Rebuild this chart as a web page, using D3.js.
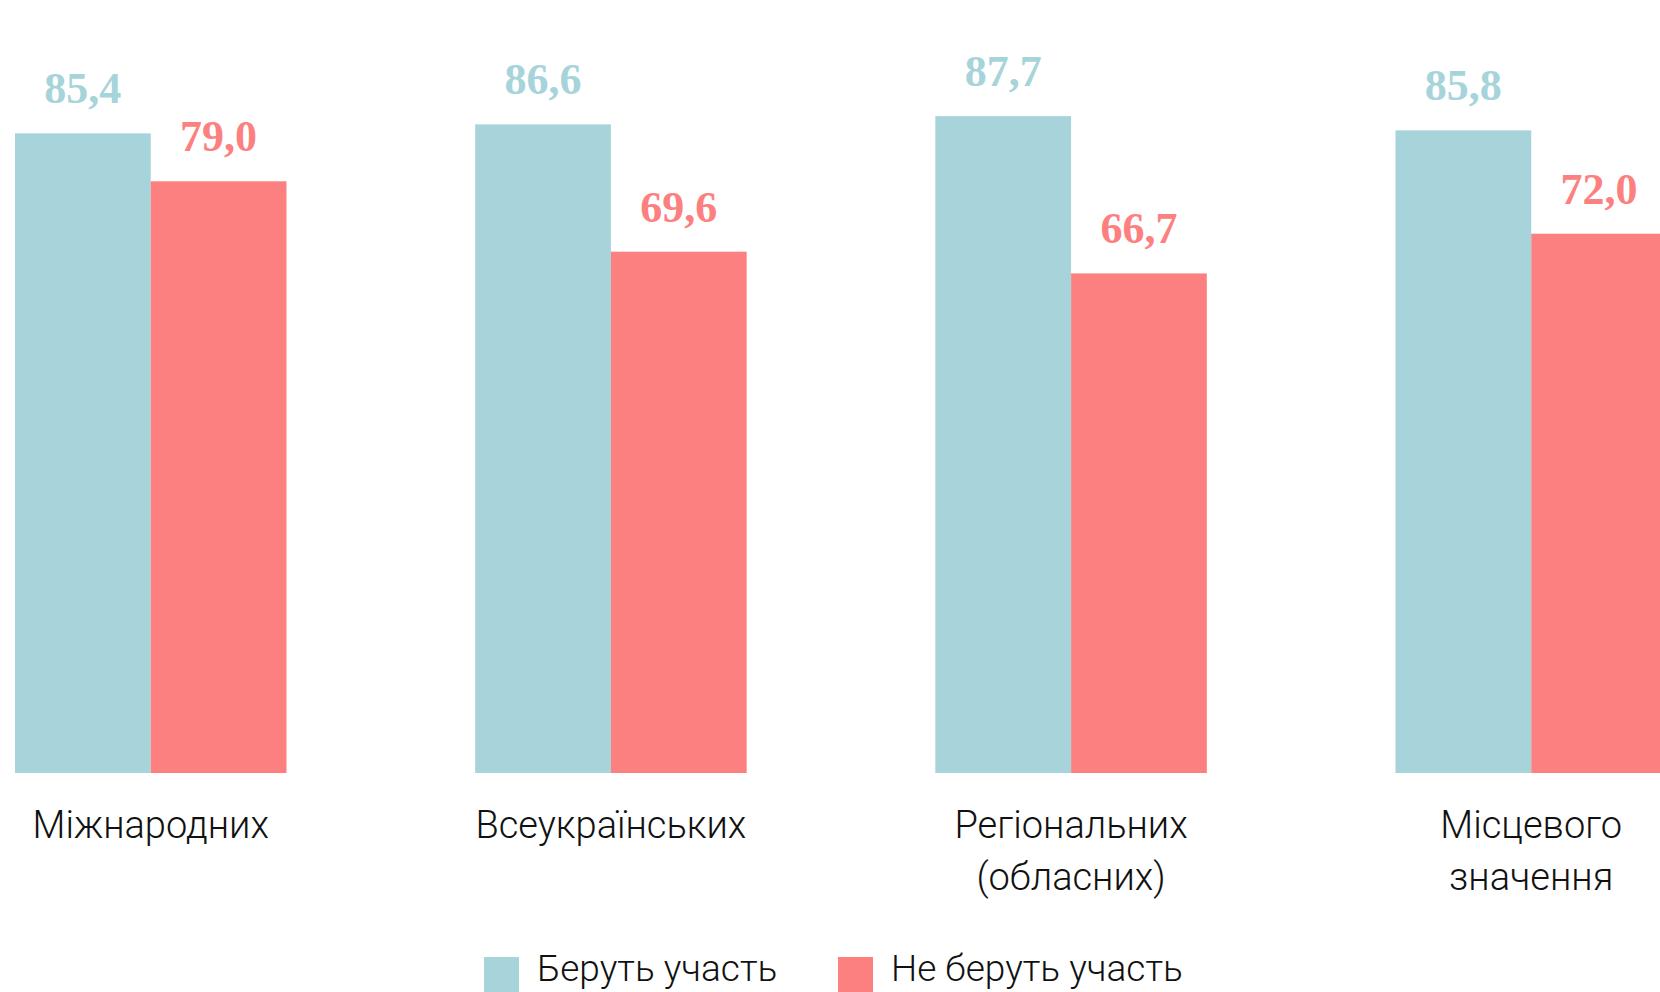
<!DOCTYPE html>
<html>
<head>
<meta charset="utf-8">
<script src="https://cdn.jsdelivr.net/npm/d3@7"></script>
<style>
  body { margin: 0; background: #fff; overflow: hidden; }
  svg { display: block; }
</style>
</head>
<body>
<svg></svg>
<script>
let categories = [['Міжнародних'], ['Всеукраїнських'], ['Регіональних', '(обласних)'], ['Місцевого', 'значення']];
let seriesNames = ['Беруть участь', 'Не беруть участь'];
let taking = [85.4, 86.6, 87.7, 85.8];
let notTaking = [79.0, 69.6, 66.7, 72.0];

let width = 1660;
let height = 992;
let baseline = 773;

let colors = ['#a6d4da', '#fd8080'];

let svg = d3.select('svg').attr('width', width).attr('height', height);

let rows = categories.map((c, i) => {
  return { key: i, label: c, values: [taking[i], notTaking[i]] };
});

let x0 = d3.scaleBand().
domain(rows.map(r => r.key)).
range([15, 1667]).
paddingInner(0.41).
paddingOuter(0);

let x1 = d3.scaleBand().
domain([0, 1]).
range([0, x0.bandwidth()]);

let y = d3.scaleLinear().
domain([0, 100]).
range([baseline, 24]);

let fmt = v => d3.format('.1f')(v).replace('.', ',');

let groups = svg.selectAll('g.group').
data(rows).
enter().
append('g').
attr('class', 'group').
attr('transform', r => 'translate(' + x0(r.key) + ',0)');

groups.selectAll('rect').
data(r => r.values.map((v, s) => ({ v: v, s: s }))).
enter().
append('rect').
attr('x', d => x1(d.s)).
attr('width', x1.bandwidth()).
attr('y', d => y(d.v)).
attr('height', d => baseline - y(d.v)).
attr('fill', d => colors[d.s]);

groups.selectAll('text.val').
data(r => r.values.map((v, s) => ({ v: v, s: s }))).
enter().
append('text').
attr('class', 'val').
attr('x', d => x1(d.s) + x1.bandwidth() / 2).
attr('y', d => y(d.v) - 30).
attr('text-anchor', 'middle').
style('font-family', '"Liberation Serif", serif').
style('font-weight', 'bold').
style('font-size', '44px').
attr('fill', d => colors[d.s]).
text(d => fmt(d.v));

// category labels
let catText = groups.append('text').
attr('x', x0.bandwidth() / 2).
attr('y', 838).
attr('text-anchor', 'middle').
style('font-family', 'Roboto, sans-serif').
style('font-weight', 300).
style('font-size', '38px').
attr('fill', '#111');

catText.selectAll('tspan').
data(r => r.label).
enter().
append('tspan').
attr('x', x0.bandwidth() / 2).
attr('dy', (d, i) => i === 0 ? 0 : 52).
text(d => d);

// legend
let legendX = [484, 838];
let legend = svg.selectAll('g.legend').
data(seriesNames).
enter().
append('g').
attr('class', 'legend').
attr('transform', (d, i) => 'translate(' + legendX[i] + ',957)');

legend.append('rect').
attr('width', 35).
attr('height', 35).
attr('fill', (d, i) => colors[i]);

legend.append('text').
attr('x', 53).
attr('y', 24).
style('font-family', 'Roboto, sans-serif').
style('font-weight', 300).
style('font-size', '37px').
attr('fill', '#111').
text(d => d);
</script>
</body>
</html>
